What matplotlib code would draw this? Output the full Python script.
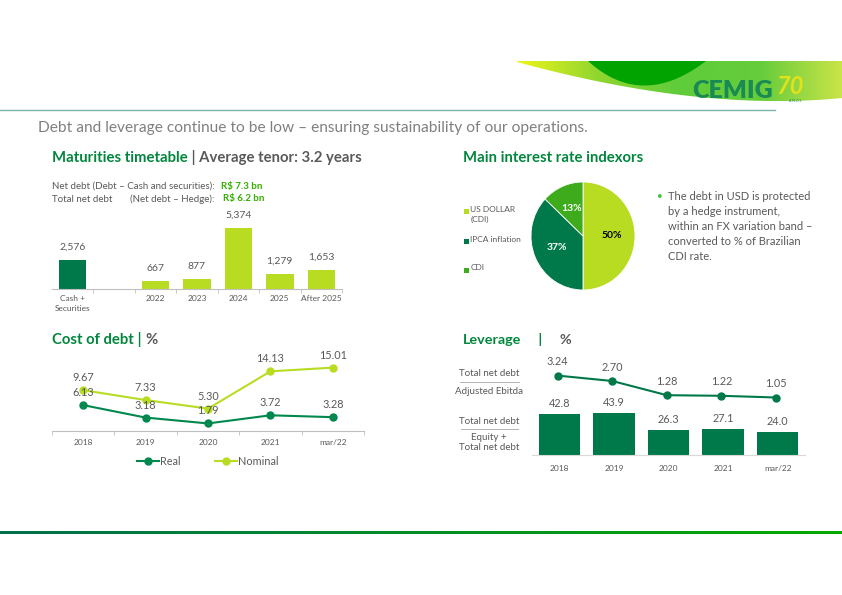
import numpy as np
import matplotlib
matplotlib.use("Agg")
import matplotlib.pyplot as plt
from matplotlib.colors import LinearSegmentedColormap
from matplotlib.patches import Polygon, Rectangle

plt.rcParams['font.family'] = ['Lato', 'DejaVu Sans']

# maturities timetable (R$ million)
mat_labels = ['Cash +\nSecurities', '', '2022', '2023', '2024', '2025', 'After 2025']
mat_values = [2576, 0, 667, 877, 5374, 1279, 1653]
mat_text = ['2,576', '', '667', '877', '5,374', '1,279', '1,653']

# main interest rate indexors (%)
idx_labels = ['US DOLLAR\n(CDI)', 'IPCA inflation', 'CDI']
idx_values = [50, 37, 13]

# cost of debt (%)
years = ['2018', '2019', '2020', '2021', 'mar/22']
cost_real = [6.13, 3.18, 1.79, 3.72, 3.28]
cost_nominal = [9.67, 7.33, 5.30, 14.13, 15.01]

# leverage
lev_ebitda = [3.24, 2.70, 1.28, 1.22, 1.05]
lev_equity = [42.8, 43.9, 26.3, 27.1, 24.0]

bullet_lines = ['The debt in USD is protected', 'by a hedge instrument,',
                'within an FX variation band \u2013', 'converted to % of Brazilian',
                'CDI rate.']

DARK = '#00794a'
LIGHT = '#b8dc22'
MID = '#3dab1c'
TGREEN = '#00873c'
BGREEN = '#33b000'
GREY = '#595959'
LGREY = '#808080'
AXC = '#bfbfbf'

W, H = 842, 595
fig = plt.figure(figsize=(W / 100, H / 100), dpi=100)


def px_axes(x0, y0, x1, y1):
    a = fig.add_axes([x0 / W, 1 - y1 / H, (x1 - x0) / W, (y1 - y0) / H])
    a.patch.set_visible(False)
    return a


bg = px_axes(0, 0, W, H)
bg.set_xlim(0, W)
bg.set_ylim(H, 0)
bg.axis('off')

# ---- header swoosh ----
t = np.linspace(0, 1, 80)
bx = (1 - t) ** 2 * 517 + 2 * t * (1 - t) * 700 + t ** 2 * 842
by = (1 - t) ** 2 * 62 + 2 * t * (1 - t) * 112 + t ** 2 * 98
band = Polygon(np.c_[np.r_[517, 842, bx[::-1]], np.r_[61, 61, by[::-1]]],
               closed=True, fc='none', ec='none')
bg.add_patch(band)
cm_band = LinearSegmentedColormap.from_list('b', ['#eef41a', '#8fd630', '#5fcc3a', '#66cc3c', '#c9e448'])
im = bg.imshow(np.linspace(0, 1, 256)[None, :], cmap=cm_band, aspect='auto',
               extent=(517, 842, 112, 60), zorder=1)
im.set_clip_path(band)
lx = (1 - t) ** 2 * 588 + 2 * t * (1 - t) * 642 + t ** 2 * 706
ly = (1 - t) ** 2 * 61 + 2 * t * (1 - t) * 110 + t ** 2 * 61
bg.add_patch(Polygon(np.c_[lx, ly], closed=True, fc='#00a300', ec='none', zorder=2))
bg.text(692, 91, 'CEMIG', fontsize=18, fontweight='heavy', color='#1a8a55',
        va='center', ha='left', zorder=3)
bg.text(776, 87, '70', fontsize=17, fontweight='bold', style='italic', color='#e2e21a',
        va='center', ha='left', zorder=3)
bg.text(789, 101.5, 'A N O S', fontsize=2.5, color='#1a8a55', va='center', zorder=3)
bg.plot([0, 775], [110, 110], color='#7fb3ae', lw=1, zorder=3)

bg.text(38, 128, 'Debt and leverage continue to be low \u2013 ensuring sustainability of our operations.',
        fontsize=11.2, color=LGREY, va='center')

# bottom gradient rule
axl = px_axes(0, 530.5, W, 533.5)
axl.imshow(np.linspace(0, 1, 256)[None, :], aspect='auto',
           cmap=LinearSegmentedColormap.from_list('g', ['#00704c', '#00aa00']))
axl.axis('off')


def title(x, y, parts, fs=10.7):
    prev = None
    for s, c in parts:
        if prev is None:
            prev = bg.text(x, y, s, fontsize=fs, fontweight='bold', color=c, va='center')
        else:
            prev = bg.annotate(s, xy=(1, 0), xycoords=prev, va='bottom', ha='left',
                               fontsize=fs, fontweight='bold', color=c)


title(52, 158, [('Maturities timetable', TGREEN), (' | Average tenor: 3.2 years', GREY)])
title(463, 158, [('Main interest rate indexors', TGREEN)])
title(52, 340, [('Cost of debt', TGREEN), (' | ', TGREEN), ('%', GREY)])
title(463, 340, [('Leverage', TGREEN), ('     |     ', TGREEN), ('%', GREY)], fs=10.4)

# ---- maturities ----
bg.text(52, 186, 'Net debt (Debt \u2013 Cash and securities):', fontsize=7, color=GREY, va='center')
bg.text(221, 186, 'R$ 7.3 bn', fontsize=7, color=BGREEN, fontweight='bold', va='center')
bg.text(52, 199, 'Total net debt', fontsize=7, color=GREY, va='center')
bg.text(215, 199, '(Net debt \u2013 Hedge):', fontsize=7, color=GREY, va='center', ha='right')
bg.text(223, 199, 'R$ 6.2 bn', fontsize=7, color=BGREEN, fontweight='bold', va='center')

ax1 = px_axes(52, 215, 342, 289)
x7 = np.arange(len(mat_values))
ax1.bar(x7, mat_values, width=0.66, color=[DARK] + [LIGHT] * 6)
for xi, v, s in zip(x7, mat_values, mat_text):
    if s:
        ax1.annotate(s, (xi, v), xytext=(0, 6), textcoords='offset points',
                     ha='center', va='bottom', fontsize=7.5, color=GREY)
ax1.set_xlim(-0.5, 6.5)
ax1.set_ylim(0, 6500)
ax1.set_xticks(x7, mat_labels, fontsize=6, color=GREY, linespacing=1.5)
ax1.set_xticks(np.arange(7) + 0.5, minor=True)
ax1.tick_params(axis='x', which='major', length=0, pad=4)
ax1.tick_params(axis='x', which='minor', length=3, color=AXC)
ax1.set_yticks([])
for s in ['top', 'right', 'left']:
    ax1.spines[s].set_visible(False)
ax1.spines['bottom'].set_color(AXC)

# ---- pie ----
ax2 = px_axes(531, 182, 635, 290)
wedges, _, autos = ax2.pie(idx_values, colors=[LIGHT, DARK, MID], startangle=90,
                           counterclock=False, autopct='%d%%', pctdistance=0.55,
                           wedgeprops=dict(edgecolor='white', linewidth=0.6),
                           textprops=dict(fontsize=7.5, fontweight='bold'))
for a, c in zip(autos, ['black', 'white', 'white']):
    a.set_color(c)
ax2.set_aspect('auto')
ax2.set_xlim(-1, 1)
ax2.set_ylim(-1, 1)

for lab, col, yy in zip(idx_labels, [LIGHT, DARK, MID], [211, 241, 270]):
    bg.add_patch(Rectangle((463.5, yy - 2.5), 5, 5, fc=col, ec='none'))
    bg.text(470.5, yy - 5.5, lab, fontsize=6, color=GREY, va='top', linespacing=1.5)

bg.text(657, 196, '\u2022', fontsize=7, color='#44c040', va='center')
for i, line in enumerate(bullet_lines):
    bg.text(668, 197 + i * 14.8, line, fontsize=8, color=GREY, va='center')

# ---- cost of debt ----
x5 = np.arange(len(years))
ax3 = px_axes(52, 355, 364, 431)
ax3.plot(x5, cost_real, '-o', color='#00884e', lw=1.5, ms=5, label='Real')
ax3.plot(x5, cost_nominal, '-o', color=LIGHT, lw=1.5, ms=5, label='Nominal')
for xs, vals in [(x5, cost_real), (x5, cost_nominal)]:
    for xi, v in zip(xs, vals):
        ax3.annotate(f'{v:.2f}', (xi, v), xytext=(0, 5), textcoords='offset points',
                     ha='center', va='bottom', fontsize=7.8, color=GREY)
ax3.set_xlim(-0.5, 4.5)
ax3.set_ylim(0, 18)
ax3.set_xticks(x5, years, fontsize=6, color=GREY)
ax3.set_xticks(np.arange(-0.5, 5, 1), minor=True)
ax3.tick_params(axis='x', which='major', length=0, pad=6)
ax3.tick_params(axis='x', which='minor', length=3, color=AXC)
ax3.set_yticks([])
for s in ['top', 'right', 'left']:
    ax3.spines[s].set_visible(False)
ax3.spines['bottom'].set_color(AXC)
ax3.legend(loc='upper center', bbox_to_anchor=(0.5, -0.2), ncol=2, frameon=False,
           fontsize=7.8, handlelength=2.0, handletextpad=0.1, columnspacing=3.2,
           labelcolor=GREY)

# ---- leverage ----
ax4 = px_axes(532, 403, 805, 455)
ax4.bar(x5, lev_equity, width=0.76, color=DARK)
for xi, v in zip(x5, lev_equity):
    ax4.annotate(f'{v:.1f}', (xi, v), xytext=(0, 3.5), textcoords='offset points',
                 ha='center', va='bottom', fontsize=7.8, color=GREY)
ax4.set_xlim(-0.5, 4.5)
ax4.set_ylim(0, 54)
ax4.set_xticks(x5, years, fontsize=6, color=GREY)
ax4.tick_params(axis='x', length=0, pad=7)
ax4.set_yticks([])
for s in ['top', 'right', 'left']:
    ax4.spines[s].set_visible(False)
ax4.spines['bottom'].set_color('#d9d9d9')

ax5 = px_axes(532, 360, 805, 408)
ax5.plot(x5 - 0.03, lev_ebitda, '-o', color=DARK, lw=1.5, ms=5)
for xi, v in zip(x5 - 0.03, lev_ebitda):
    ax5.annotate(f'{v:.2f}', (xi, v), xytext=(0, 6), textcoords='offset points',
                 ha='center', va='bottom', fontsize=7.8, color=GREY)
ax5.set_xlim(-0.5, 4.5)
ax5.set_ylim(0, 4.8)
ax5.axis('off')

for txt, yy in [('Total net debt', 373), ('Adjusted Ebitda', 391), ('Total net debt', 421),
                ('Equity +', 438), ('Total net debt', 447)]:
    bg.text(489, yy, txt, fontsize=7, color=GREY, ha='center', va='center')
bg.plot([460, 519], [382, 382], color='#a6a6a6', lw=0.6)
bg.plot([461, 518], [429, 429], color='#a6a6a6', lw=0.6)

fig.savefig('out.png', dpi=100)
